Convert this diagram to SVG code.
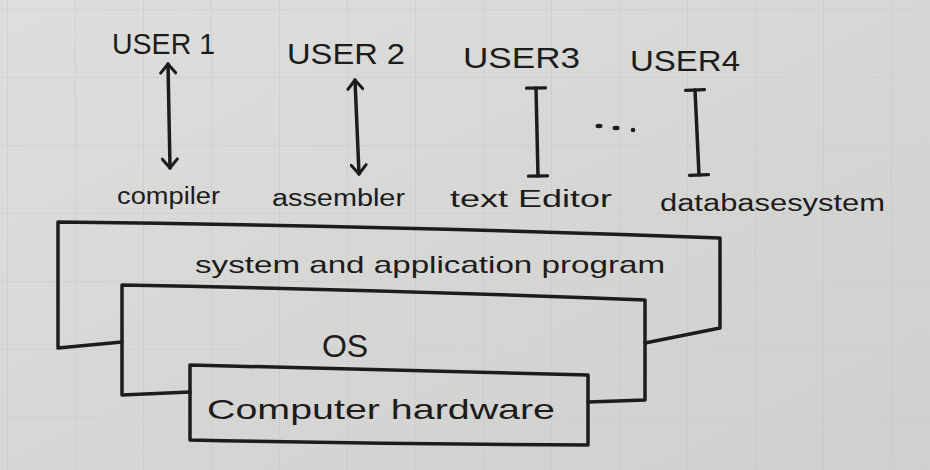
<svg xmlns="http://www.w3.org/2000/svg" width="930" height="470" viewBox="0 0 930 470">
  <defs>
    <pattern id="grid" width="68" height="68" patternUnits="userSpaceOnUse" x="8" y="10">
      <path d="M68 0 V68 M0 68 H68" fill="none" stroke="#c9c9c7" stroke-width="1.2"/>
    </pattern>
    <linearGradient id="paper" x1="0" y1="0" x2="1" y2="1">
      <stop offset="0" stop-color="#dededc"/>
      <stop offset="1" stop-color="#cfcfcd"/>
    </linearGradient>
    <marker id="head" viewBox="0 0 13 18" refX="11" refY="9" markerWidth="13" markerHeight="18" markerUnits="userSpaceOnUse" orient="auto-start-reverse">
      <path d="M2 1.5 L11 9 L2 16.5" fill="none" stroke="#1c1c1c" stroke-width="3" stroke-linecap="round" stroke-linejoin="round"/>
    </marker>
    <marker id="bar" viewBox="0 0 6 22" refX="3" refY="11" markerWidth="6" markerHeight="22" markerUnits="userSpaceOnUse" orient="auto">
      <path d="M3 1.5 V20.5" fill="none" stroke="#1c1c1c" stroke-width="3.2" stroke-linecap="round"/>
    </marker>
  </defs>
  <style>
    .ink { fill: none; stroke: #1c1c1c; stroke-width: 3.5; stroke-linejoin: round; stroke-linecap: round; }
    .t { font-family: "Liberation Sans", "DejaVu Sans", sans-serif; fill: #1c1c1c; }
    .user { font-size: 30px; }
    .lbl { font-size: 23px; }
    .layer { font-size: 24px; }
  </style>

  <rect width="930" height="470" fill="url(#paper)"/>
  <rect width="930" height="470" fill="url(#grid)"/>

  <g id="user1"><text class="t user" x="112" y="54" textLength="103" lengthAdjust="spacingAndGlyphs">USER 1</text></g>
  <g id="user2"><text class="t user" x="287" y="64" textLength="118" lengthAdjust="spacingAndGlyphs">USER 2</text></g>
  <g id="user3"><text class="t user" x="463" y="68" textLength="117" lengthAdjust="spacingAndGlyphs">USER3</text></g>
  <g id="user4"><text class="t user" x="630" y="71" textLength="110" lengthAdjust="spacingAndGlyphs">USER4</text></g>

  <g id="compiler"><text class="t lbl" x="117" y="204" textLength="103" lengthAdjust="spacingAndGlyphs">compiler</text></g>
  <g id="assembler"><text class="t lbl" x="272" y="206" textLength="133" lengthAdjust="spacingAndGlyphs">assembler</text></g>
  <g id="text-editor"><text class="t lbl" x="450" y="207" textLength="162" lengthAdjust="spacingAndGlyphs">text Editor</text></g>
  <g id="database-system"><text class="t lbl" x="660" y="211" textLength="225" lengthAdjust="spacingAndGlyphs">databasesystem</text></g>

  <g id="ellipsis" fill="#1c1c1c">
    <ellipse cx="599" cy="126" rx="3.5" ry="2.2"/>
    <ellipse cx="616" cy="128" rx="3.5" ry="2.2"/>
    <circle cx="633" cy="130" r="2.3"/>
  </g>

  <g id="connectors">
    <path class="ink" d="M168 64 L170 168" marker-start="url(#head)" marker-end="url(#head)"/>
    <path class="ink" d="M355 80 L359 174" marker-start="url(#head)" marker-end="url(#head)"/>
    <path class="ink" d="M536 88 L538 176" marker-start="url(#bar)" marker-end="url(#bar)"/>
    <path class="ink" d="M695 90 L699 175" marker-start="url(#bar)" marker-end="url(#bar)"/>
  </g>

  <g id="application-layer">
    <path class="ink" d="M122 342 L58 348 L58 222 Q400 226 720 238 L720 328 L645 343"/>
    <text class="t layer" x="195" y="273" textLength="470" lengthAdjust="spacingAndGlyphs">system and application program</text>
  </g>

  <g id="os-layer">
    <path class="ink" d="M190 392 L122 395 L122 285 Q390 290 645 300 L645 400 L588 402"/>
    <text class="t" x="345" y="357" font-size="32" text-anchor="middle">OS</text>
  </g>

  <g id="hardware-layer">
    <path class="ink" d="M190 365 Q390 370 588 375 L588 445 Q390 444 190 440 Z"/>
    <text class="t" x="207" y="419" font-size="28" textLength="348" lengthAdjust="spacingAndGlyphs">Computer hardware</text>
  </g>
</svg>
